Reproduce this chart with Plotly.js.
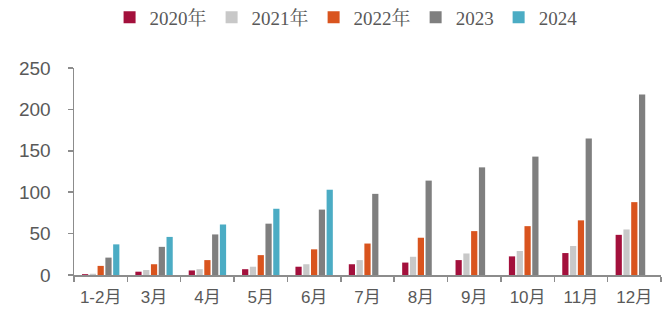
<!DOCTYPE html>
<html>
<head>
<meta charset="utf-8">
<script src="https://cdn.plot.ly/plotly-3.0.1.min.js"></script>
<style>
html,body{margin:0;padding:0;background:#fff;}
#chart{width:672px;height:316px;}
</style>
</head>
<body>
<div id="chart"></div>
<script>
var categories = ["1-2月","3月","4月","5月","6月","7月","8月","9月","10月","11月","12月"];
var seriesNames = ["2020年","2021年","2022年","2023","2024"];
var v2020 = [1, 4, 5.5, 7, 10, 13, 15, 18, 22.5, 26.5, 48.5];
var v2021 = [1.5, 6, 7, 10, 13, 18, 22, 26, 29, 35, 55];
var v2022 = [11, 13, 18, 24, 31, 38, 45, 53, 59, 66, 88];
var v2023 = [21, 34, 49, 62, 79, 98, 114, 130, 143, 165, 218];
var v2024 = [37, 46, 61, 80, 103, null, null, null, null, null, null];
var colors = ["#a3103c", "#c8c8c8", "#d9541e", "#7f7f7f", "#4bacc4"];
var yTicks = [0, 50, 100, 150, 200, 250];

var allValues = [v2020, v2021, v2022, v2023, v2024];
var traces = allValues.map(function(vals, i){
  return {
    type: "bar",
    name: seriesNames[i],
    x: categories,
    y: vals,
    marker: {color: colors[i]},
    hoverinfo: "x+y+name"
  };
});

var layout = {
  width: 672,
  height: 316,
  margin: {l: 74, r: 11, t: 68, b: 41},
  paper_bgcolor: "#fff",
  plot_bgcolor: "#fff",
  barmode: "group",
  bargap: 0.27,
  bargroupgap: 0.2,
  showlegend: true,
  legend: {
    orientation: "h",
    xref: "container", x: 0.515, xanchor: "center",
    yref: "container", y: 0.945, yanchor: "middle",
    font: {family: "Liberation Serif, 'Noto Serif CJK SC', 'Noto Sans CJK SC', serif", size: 19, color: "#595959"},
    itemwidth: 30,
    tracegroupgap: 0
  },
  xaxis: {
    type: "category",
    showline: true,
    linecolor: "#8c8c8c",
    linewidth: 1.5,
    ticks: "outside",
    tickson: "boundaries",
    ticklen: 5,
    tickcolor: "#8c8c8c",
    tickwidth: 1.5,
    showgrid: false,
    tickangle: 0,
    ticklabelstandoff: 6,
    tickfont: {family: "Liberation Sans, 'Noto Sans CJK SC', Arial, sans-serif", size: 17, color: "#595959"},
    fixedrange: true,
    automargin: false
  },
  yaxis: {
    range: [0, 250],
    tickvals: yTicks,
    ticktext: yTicks.map(String),
    showline: true,
    linecolor: "#8c8c8c",
    linewidth: 1.5,
    ticks: "outside",
    ticklen: 5,
    tickcolor: "#8c8c8c",
    tickwidth: 1.5,
    showgrid: false,
    zeroline: false,
    ticklabelstandoff: 13,
    tickfont: {family: "Liberation Sans, Arial, sans-serif", size: 19, color: "#595959"},
    fixedrange: true,
    automargin: false
  }
};

Plotly.newPlot("chart", traces, layout, {displayModeBar: false, staticPlot: true});
</script>
</body>
</html>
